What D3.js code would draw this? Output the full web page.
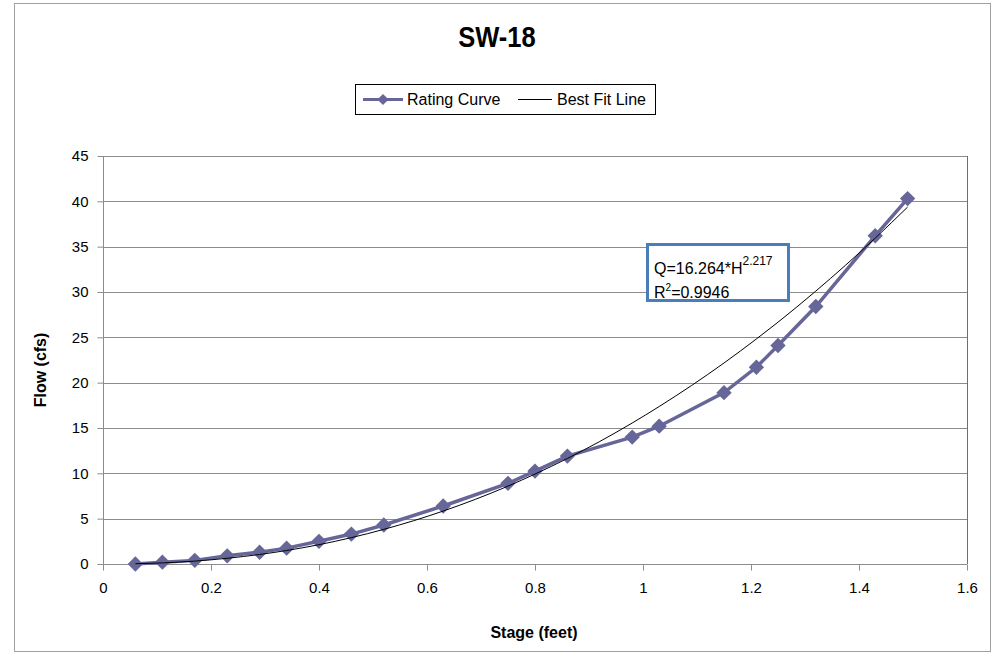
<!DOCTYPE html>
<html>
<head>
<meta charset="utf-8">
<title>SW-18 Rating Curve</title>
<script src="https://cdnjs.cloudflare.com/ajax/libs/d3/7.8.5/d3.min.js"></script>
<style>
  body { margin: 0; background: #fff; }
  text { font-family: "Liberation Sans Narrow", "Liberation Sans", Arial, sans-serif; }
</style>
</head>
<body>
<script>
var stage = [0.06, 0.11, 0.17, 0.23, 0.29, 0.34, 0.40, 0.46, 0.52, 0.63, 0.75,
             0.80, 0.86, 0.98, 1.03, 1.15, 1.21, 1.25, 1.32, 1.43, 1.49];
var flow = [0.0, 0.2, 0.4, 0.9, 1.3, 1.75, 2.5, 3.3, 4.3, 6.4, 8.9,
            10.25, 11.9, 14.0, 15.2, 18.9, 21.7, 24.1, 28.4, 36.2, 40.3];
// best fit line values at the same stages
var fitFlow = [0.03, 0.12, 0.32, 0.63, 1.05, 1.49, 2.13, 2.91, 3.82, 5.84, 8.59,
               9.92, 11.64, 15.55, 17.37, 22.17, 24.82, 26.67, 30.10, 35.94, 39.37];
var xTicks = [0, 0.2, 0.4, 0.6, 0.8, 1, 1.2, 1.4, 1.6];
var yTicks = [0, 5, 10, 15, 20, 25, 30, 35, 40, 45];

var W = 1004, H = 654;
var margin = {top: 156, right: 37, bottom: 90, left: 103},
    width = W - margin.left - margin.right,
    height = H - margin.top - margin.bottom;

var svg = d3.select("body").append("svg")
    .attr("width", W)
    .attr("height", H);

// outer chart border
svg.append("rect")
    .attr("x", 14.5).attr("y", 3.5)
    .attr("width", 976).attr("height", 648)
    .attr("fill", "#fff")
    .attr("stroke", "#a0a0a0");

// title (condensed look)
svg.append("text")
    .attr("transform", "translate(497,47) scale(0.85,1)")
    .attr("text-anchor", "middle")
    .style("font-size", "30px")
    .style("font-weight", "bold")
    .text("SW-18");

var x = d3.scaleLinear().domain([0, 1.6]).range([0, width]);
var y = d3.scaleLinear().domain([0, 45]).range([height, 0]);

var g = svg.append("g")
    .attr("transform", "translate(" + margin.left + "," + margin.top + ")");

// gridlines
g.append("g")
    .selectAll("line")
    .data(yTicks.slice(1))
    .join("line")
    .attr("x1", 0).attr("x2", width)
    .attr("y1", function(d) { return Math.round(y(d)) + 0.5; })
    .attr("y2", function(d) { return Math.round(y(d)) + 0.5; })
    .attr("stroke", "#8c8c8c");

// plot area border (right side)
g.append("line")
    .attr("x1", width + 0.5).attr("x2", width + 0.5)
    .attr("y1", 0).attr("y2", height)
    .attr("stroke", "#6e6e6e");

// axes
var xAxis = d3.axisBottom(x).tickValues(xTicks).tickSize(6).tickPadding(12)
    .tickFormat(function(d) { return d3.format("")(d); });
var yAxis = d3.axisLeft(y).tickValues(yTicks).tickSize(6).tickPadding(9);

var gx = g.append("g")
    .attr("transform", "translate(0," + (Math.round(height) + 0.5) + ")")
    .call(xAxis);
var gy = g.append("g")
    .attr("transform", "translate(0.5,0)")
    .call(yAxis);

[gx, gy].forEach(function(a) {
  a.select(".domain").attr("stroke", "#8c8c8c");
  a.selectAll(".tick line").attr("stroke", "#8c8c8c");
  a.selectAll(".tick text")
      .style("font-size", "15px")
      .style("font-family", "Liberation Sans, Arial, sans-serif")
      .attr("fill", "#000");
  a.select(".domain").attr("d", a === gx ? "M0,0H" + width : "M0," + height + "V0");
});

// axis titles
svg.append("text")
    .attr("x", 534).attr("y", 638)
    .attr("text-anchor", "middle")
    .style("font-size", "16px")
    .style("font-weight", "bold")
    .text("Stage (feet)");

svg.append("text")
    .attr("transform", "translate(46,370) rotate(-90)")
    .attr("text-anchor", "middle")
    .style("font-size", "16px")
    .style("font-weight", "bold")
    .text("Flow (cfs)");

var pts = stage.map(function(s, i) { return {s: s, q: flow[i], f: fitFlow[i]}; });

// rating curve
var line = d3.line()
    .x(function(d) { return x(d.s); })
    .y(function(d) { return y(d.q); });

g.append("path")
    .datum(pts)
    .attr("d", line)
    .attr("fill", "none")
    .attr("stroke", "#666699")
    .attr("stroke-width", 3.5);

var diamond = d3.symbol().type(d3.symbolDiamond2).size(150);

g.append("g")
    .selectAll("path")
    .data(pts)
    .join("path")
    .attr("transform", function(d) { return "translate(" + x(d.s) + "," + y(d.q) + ")"; })
    .attr("d", diamond)
    .attr("fill", "#666699");

// best fit line
var fitLine = d3.line()
    .curve(d3.curveMonotoneX)
    .x(function(d) { return x(d.s); })
    .y(function(d) { return y(d.f); });

g.append("path")
    .datum(pts)
    .attr("d", fitLine)
    .attr("fill", "none")
    .attr("stroke", "#000")
    .attr("stroke-width", 1);

// equation box
var eq = svg.append("g").attr("transform", "translate(647,244)");
eq.append("rect")
    .attr("x", 0.5).attr("y", 0.5)
    .attr("width", 141).attr("height", 56)
    .attr("fill", "#fff")
    .attr("stroke", "#4a7ebb")
    .attr("stroke-width", 3);
var t1 = eq.append("text").attr("x", 7).attr("y", 30)
    .style("font-family", "Liberation Sans, Arial, sans-serif")
    .style("font-size", "16px");
t1.append("tspan").text("Q=16.264*H");
t1.append("tspan").attr("dy", -9).style("font-size", "12px").text("2.217");
var t2 = eq.append("text").attr("x", 7).attr("y", 54)
    .style("font-family", "Liberation Sans, Arial, sans-serif")
    .style("font-size", "16px");
t2.append("tspan").text("R");
t2.append("tspan").attr("dy", -7).style("font-size", "10px").text("2");
t2.append("tspan").attr("dy", 7).text("=0.9946");

// legend
var leg = svg.append("g").attr("transform", "translate(355,84)");
leg.append("rect")
    .attr("x", 0.5).attr("y", 0.5)
    .attr("width", 300).attr("height", 30)
    .attr("fill", "#fff")
    .attr("stroke", "#000");
leg.append("line")
    .attr("x1", 8).attr("x2", 48).attr("y1", 15.5).attr("y2", 15.5)
    .attr("stroke", "#666699").attr("stroke-width", 3);
leg.append("path")
    .attr("transform", "translate(28,15.5)")
    .attr("d", d3.symbol().type(d3.symbolDiamond2).size(80))
    .attr("fill", "#666699");
leg.append("text").attr("x", 52).attr("y", 21)
    .style("font-size", "16px")
    .text("Rating Curve");
leg.append("line")
    .attr("x1", 163).attr("x2", 197).attr("y1", 15.5).attr("y2", 15.5)
    .attr("stroke", "#000").attr("stroke-width", 1);
leg.append("text").attr("x", 202).attr("y", 21)
    .style("font-size", "16px")
    .text("Best Fit Line");
</script>
</body>
</html>
